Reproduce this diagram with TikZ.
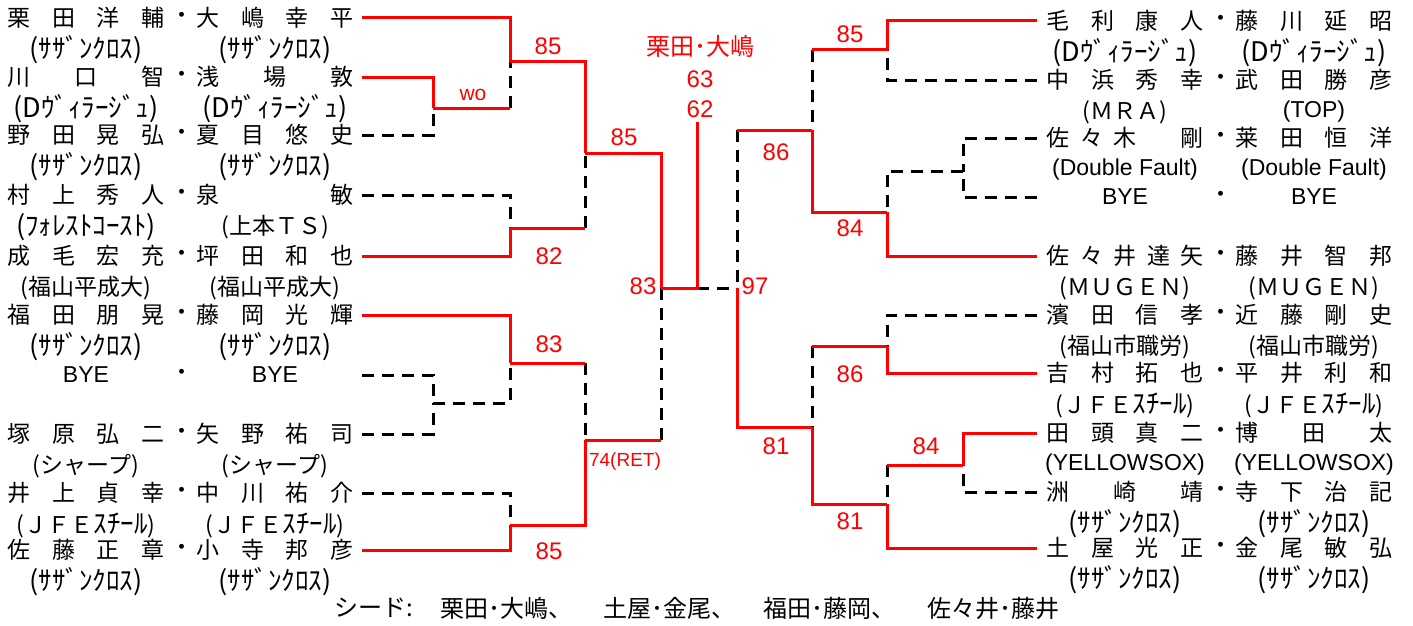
\documentclass[tikz,border=0pt]{standalone}
\usepackage{fontspec}
\setmainfont{Liberation Sans}
\newfontfamily\jp{Noto Sans CJK JP}
\def\spreadrest#1{\ifx\relax#1\else\hfill#1\expandafter\spreadrest\fi}
\def\spreadfirst#1{#1\spreadrest}
\newcommand{\spread}[1]{\makebox[157pt][s]{\spreadfirst#1\relax}}
\newcommand{\emsp}{\hbox to 1em{}}
\newcommand{\hw}[1]{{\fontsize{27}{27}\selectfont#1}}
\newcommand{\pl}[7]{%
\node[nm] (#1a) at (#2,#3) {\spread{#4}};
\node[nm] (#1d) at (#2+96,#3) {・};
\node[nm] (#1b) at (#2+189,#3) {\spread{#5}};
\node[aff] (#1x) at (#2,#3-32) {#6};
\node[aff] (#1y) at (#2+189,#3-32) {#7};}
\newcommand{\bye}[3]{%
\node[by] (#1a) at (#2,#3) {BYE};
\node[nm] (#1d) at (#2+96,#3) {・};
\node[by] (#1b) at (#2+189,#3) {BYE};}

\begin{document}
\begin{tikzpicture}[x=1pt,y=1pt]
\tikzstyle{every node}+=[inner sep=0pt]
\tikzstyle{nm}=[font=\jp\fontsize{23}{23}\selectfont]
\tikzstyle{aff}=[font=\jp\fontsize{23}{23}\selectfont]
\tikzstyle{by}=[font=\fontsize{23}{23}\selectfont, minimum width=157pt]
\tikzstyle{sc}=[text=red, font=\fontsize{24}{24}\selectfont]
\tikzstyle{seed}=[anchor=west, font=\jp\fontsize{24}{24}\selectfont]
\tikzstyle{win}=[red, line width=3pt]
\tikzstyle{lose}=[black, line width=3pt, dash pattern=on 12pt off 8pt]
\useasboundingbox (0,0) rectangle (1413,-626);

\pl{L1}{86}{-18}{栗田洋輔}{大嶋幸平}{\hw{(ｻｻﾞﾝｸﾛｽ)}}{\hw{(ｻｻﾞﾝｸﾛｽ)}}
\pl{L2}{86}{-77}{川口智}{浅場敦}{\hw{(Dｳﾞｨﾗｰｼﾞｭ)}}{\hw{(Dｳﾞｨﾗｰｼﾞｭ)}}
\pl{L3}{86}{-135}{野田晃弘}{夏目悠史}{\hw{(ｻｻﾞﾝｸﾛｽ)}}{\hw{(ｻｻﾞﾝｸﾛｽ)}}
\pl{L4}{86}{-195}{村上秀人}{泉敏}{\hw{(ﾌｫﾚｽﾄｺｰｽﾄ)}}{(上本ＴＳ)}
\pl{L5}{86}{-256}{成毛宏充}{坪田和也}{(福山平成大)}{(福山平成大)}
\pl{L6}{86}{-315}{福田朋晃}{藤岡光輝}{\hw{(ｻｻﾞﾝｸﾛｽ)}}{\hw{(ｻｻﾞﾝｸﾛｽ)}}
\bye{L7}{86}{-375}
\pl{L8}{86}{-434}{塚原弘二}{矢野祐司}{(シャープ)}{(シャープ)}
\pl{L9}{86}{-493}{井上貞幸}{中川祐介}{(ＪＦＥ\hw{ｽﾁｰﾙ})}{(ＪＦＥ\hw{ｽﾁｰﾙ})}
\pl{L10}{86}{-550}{佐藤正章}{小寺邦彦}{\hw{(ｻｻﾞﾝｸﾛｽ)}}{\hw{(ｻｻﾞﾝｸﾛｽ)}}

\pl{R1}{1125}{-21}{毛利康人}{藤川延昭}{\hw{(Dｳﾞｨﾗｰｼﾞｭ)}}{\hw{(Dｳﾞｨﾗｰｼﾞｭ)}}
\pl{R2}{1125}{-80}{中浜秀幸}{武田勝彦}{(ＭＲＡ)}{\rmfamily(TOP)}
\pl{R3}{1125}{-138}{佐々木\emsp 剛}{莱田恒洋}{\rmfamily(Double Fault)}{\rmfamily(Double Fault)}
\bye{R4}{1125}{-197}
\pl{R5}{1125}{-256}{佐々井達矢}{藤井智邦}{(ＭＵＧＥＮ)}{(ＭＵＧＥＮ)}
\pl{R6}{1125}{-315}{濱田信孝}{近藤剛史}{(福山市職労)}{(福山市職労)}
\pl{R7}{1125}{-373}{吉村拓也}{平井利和}{(ＪＦＥ\hw{ｽﾁｰﾙ})}{(ＪＦＥ\hw{ｽﾁｰﾙ})}
\pl{R8}{1125}{-433}{田頭真二}{博田太}{\rmfamily(YELLOWSOX)}{\rmfamily(YELLOWSOX)}
\pl{R9}{1125}{-492}{洲崎靖}{寺下治記}{\hw{(ｻｻﾞﾝｸﾛｽ)}}{\hw{(ｻｻﾞﾝｸﾛｽ)}}
\pl{R10}{1125}{-548}{土屋光正}{金尾敏弘}{\hw{(ｻｻﾞﾝｸﾛｽ)}}{\hw{(ｻｻﾞﾝｸﾛｽ)}}

\coordinate (a1) at (433,-108);
\coordinate (b1) at (510,-62);
\coordinate (b2) at (510,-228);
\coordinate (c1) at (585,-153);
\coordinate (d1) at (661,-288);
\coordinate (a2) at (433,-403);
\coordinate (b3) at (510,-363);
\coordinate (b4) at (510,-525);
\coordinate (c2) at (585,-440);
\coordinate (top) at (697,-122);
\coordinate (e1) at (737,-288);
\coordinate (p1) at (887,-50);
\coordinate (q1) at (963,-171);
\coordinate (p2) at (887,-212);
\coordinate (s1) at (812,-130);
\coordinate (p3) at (887,-346);
\coordinate (q2) at (963,-465);
\coordinate (p4) at (887,-504);
\coordinate (s2) at (812,-427);

\draw[lose] ([xshift=8pt]L3b.east) -| (a1);
\draw[win] ([xshift=8pt]L2b.east) -| (a1);
\draw[lose] (a1 -| b1) -- (b1);
\draw[win] (a1) -- (a1 -| b1);
\draw[win] ([xshift=8pt]L1b.east) -| (b1);
\draw[lose] ([xshift=8pt]L4b.east) -| (b2);
\draw[win] ([xshift=8pt]L5b.east) -| (b2);
\draw[lose] (b2 -| c1) -- (c1);
\draw[win] (b2) -- (b2 -| c1);
\draw[win] (b1) -| (c1);
\draw[win] (c1) -| (d1);
\draw[lose] ([xshift=8pt]L7b.east) -| (a2);
\draw[lose] ([xshift=8pt]L8b.east) -| (a2);
\draw[lose] (a2) -| (b3);
\draw[win] ([xshift=8pt]L6b.east) -| (b3);
\draw[lose] ([xshift=8pt]L9b.east) -| (b4);
\draw[win] ([xshift=8pt]L10b.east) -| (b4);
\draw[lose] (b3 -| c2) -- (c2);
\draw[win] (b3) -- (b3 -| c2);
\draw[win] (b4) -| (c2);
\draw[lose] (c2 -| d1) -- (d1);
\draw[win] (c2) -- (c2 -| d1);
\draw[lose] (d1 -| top) -- (e1);
\draw[win] (d1) -| (top);

\draw[win] ([xshift=-9pt]R1a.west) -| (p1);
\draw[lose] ([xshift=-9pt]R2a.west) -| (p1);
\draw[lose] ([xshift=-9pt]R3a.west) -| (q1);
\draw[lose] ([xshift=-9pt]R4a.west) -| (q1);
\draw[lose] (q1) -| (p2);
\draw[win] ([xshift=-9pt]R5a.west) -| (p2);
\draw[lose] (p1 -| s1) -- (s1);
\draw[win] (p1) -- (p1 -| s1);
\draw[win] (p2) -| (s1);
\draw[lose] (s1 -| e1) -- (e1);
\draw[win] (s1) -- (s1 -| e1);
\draw[lose] ([xshift=-9pt]R6a.west) -| (p3);
\draw[win] ([xshift=-9pt]R7a.west) -| (p3);
\draw[lose] ([xshift=-9pt]R9a.west) -| (q2);
\draw[win] ([xshift=-9pt]R8a.west) -| (q2);
\draw[lose] (q2 -| p4) -- (p4);
\draw[win] (q2) -- (q2 -| p4);
\draw[win] ([xshift=-9pt]R10a.west) -| (p4);
\draw[lose] (p3 -| s2) -- (s2);
\draw[win] (p3) -- (p3 -| s2);
\draw[win] (p4) -| (s2);
\draw[win] (s2) -| (e1);

\node[sc, font=\fontsize{21}{21}\selectfont] (wo) at (473,-95) {wo};
\node[sc] (m1) at (548,-46) {85};
\node[sc] (m2) at (549,-256) {82};
\node[sc] (m3) at (624,-137) {85};
\node[sc] (m4) at (643,-286) {83};
\node[sc] (m5) at (549,-344) {83};
\node[sc] (m6) at (549,-551) {85};
\node[sc, font=\fontsize{19}{19}\selectfont] (m7) at (625,-462) {74(RET)};
\node[sc, font=\jp\fontsize{24}{24}\selectfont] (champ) at (700,-46) {栗田･大嶋};
\node[sc] (f63) at (700,-79) {63};
\node[sc] (f62) at (700,-109) {62};
\node[sc] (m8) at (755,-286) {97};
\node[sc] (n1) at (850,-34) {85};
\node[sc] (n2) at (776,-152) {86};
\node[sc] (n3) at (850,-228) {84};
\node[sc] (n4) at (850,-374) {86};
\node[sc] (n5) at (926,-446) {84};
\node[sc] (n6) at (776,-446) {81};
\node[sc] (n7) at (850,-521) {81};

\node[seed] (sd0) at (334,-608) {シード:};
\node[seed] (sd1) at (440,-608) {栗田･大嶋、};
\node[seed] (sd2) at (603,-608) {土屋･金尾、};
\node[seed] (sd3) at (763,-608) {福田･藤岡、};
\node[seed] (sd4) at (927,-608) {佐々井･藤井};
\end{tikzpicture}
\end{document}
